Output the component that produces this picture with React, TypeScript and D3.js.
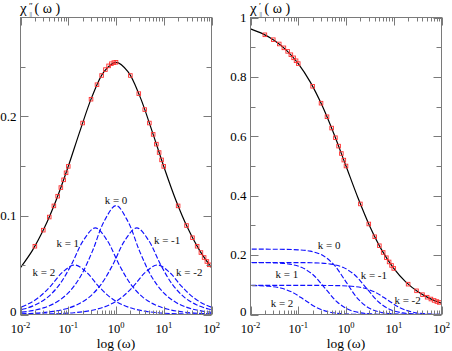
import React from "react";
import * as d3 from "d3";

// total curves, sampled at log10(omega)
const logOmega = [-2, -1.75, -1.5, -1.25, -1, -0.75, -0.5, -0.25, 0, 0.25, 0.5, 0.75, 1, 1.25, 1.5, 1.75, 2];
const chi2Total = [0.04735, 0.0648, 0.08751, 0.11596, 0.1496, 0.18603, 0.22032, 0.24545, 0.25476, 0.24545, 0.22032, 0.18603, 0.1496, 0.11596, 0.08751, 0.0648, 0.04735];
const chi1Total = [0.96191, 0.94578, 0.9228, 0.89026, 0.84486, 0.78325, 0.70344, 0.60688, 0.5, 0.39312, 0.29656, 0.21675, 0.15514, 0.10974, 0.0772, 0.05422, 0.03809];

// measured points (red squares)
const markerOmega = [
  0.02, 0.03, 0.04, 0.05, 0.06, 0.07, 0.08, 0.09, 0.1,
  0.2, 0.3, 0.4, 0.5, 0.6, 0.7, 0.8, 0.9, 1,
  2, 3, 4, 5, 6, 7, 8, 9, 10,
  20, 30, 40, 50, 60, 70, 80, 90,
];
const chi2Points = [
  0.06896, 0.08519, 0.09844, 0.1097, 0.1195, 0.12822, 0.13604, 0.14312, 0.1496,
  0.19341, 0.21745, 0.23211, 0.24142, 0.24739, 0.25113, 0.25333, 0.25444, 0.25476,
  0.24142, 0.22312, 0.207, 0.19341, 0.18193, 0.1721, 0.16361, 0.15617, 0.1496,
  0.1097, 0.08986, 0.07753, 0.06896, 0.06258, 0.05758, 0.05354, 0.05019,
];
const chi1Points = [
  0.94175, 0.92527, 0.91084, 0.89783, 0.88587, 0.8747, 0.86422, 0.8543, 0.84486,
  0.76845, 0.71149, 0.6658, 0.62772, 0.59521, 0.56693, 0.54205, 0.51989, 0.5,
  0.37228, 0.30477, 0.26176, 0.23155, 0.20893, 0.19122, 0.17694, 0.16512, 0.15514,
  0.10217, 0.07972, 0.0668, 0.05825, 0.0521, 0.0474, 0.04367, 0.04064,
];

// single relaxation components k, sampled at log10(omega * tau_k)
const logOmegaTau = [-3, -2.75, -2.5, -2.25, -2, -1.75, -1.5, -1.25, -1, -0.75, -0.5, -0.25, 0, 0.25, 0.5, 0.75, 1, 1.25, 1.5, 1.75, 2, 2.25, 2.5, 2.75, 3];
const kValues = [2, 1, 0, -1, -2];
const logTau = [0.8686, 0.4343, 0, -0.4343, -0.8686];

const chi2K0 = [0.00022, 0.00039, 0.0007, 0.00124, 0.0022, 0.00391, 0.00695, 0.01233, 0.02178, 0.03792, 0.06325, 0.09399, 0.11, 0.09399, 0.06325, 0.03792, 0.02178, 0.01233, 0.00695, 0.00391, 0.0022, 0.00124, 0.0007, 0.00039, 0.00022];
const chi2K1 = [0.00018, 0.00031, 0.00055, 0.00098, 0.00175, 0.00311, 0.00553, 0.00981, 0.01733, 0.03017, 0.05031, 0.07477, 0.0875, 0.07477, 0.05031, 0.03017, 0.01733, 0.00981, 0.00553, 0.00311, 0.00175, 0.00098, 0.00055, 0.00031, 0.00018];
const chi2K2 = [0.0001, 0.00018, 0.00032, 0.00056, 0.001, 0.00178, 0.00316, 0.00561, 0.0099, 0.01724, 0.02875, 0.04272, 0.05, 0.04272, 0.02875, 0.01724, 0.0099, 0.00561, 0.00316, 0.00178, 0.001, 0.00056, 0.00032, 0.00018, 0.0001];

const chi1K0 = [0.22, 0.22, 0.22, 0.22, 0.22, 0.21993, 0.21978, 0.21931, 0.21782, 0.21326, 0.2, 0.16715, 0.11, 0.05286, 0.02, 0.00674, 0.00218, 0.00069, 0.00022, 0.00007, 0.00002, 0.00001, 0, 0, 0];
const chi1K1 = [0.175, 0.175, 0.175, 0.175, 0.17498, 0.17494, 0.17483, 0.17445, 0.17327, 0.16964, 0.15909, 0.13296, 0.0875, 0.04204, 0.01591, 0.00536, 0.00173, 0.00055, 0.00018, 0.00006, 0.00002, 0.00001, 0, 0, 0];
const chi1K2 = [0.098, 0.098, 0.098, 0.098, 0.09799, 0.09797, 0.0979, 0.09769, 0.09703, 0.095, 0.08909, 0.07446, 0.049, 0.02354, 0.00891, 0.003, 0.00097, 0.00031, 0.0001, 0.00003, 0.00001, 0, 0, 0, 0];

// label anchors in data coordinates [log10 omega, value]
const chi2LabelAt = [[-1.51, 0.039], [-1.01, 0.068], [0, 0.112], [1.07, 0.071], [1.535, 0.039]];
const chi1LabelAt = [[-1.34, 0.025], [-1.24, 0.123], [-0.354, 0.22], [0.583, 0.12], [1.29, 0.035]];

const FONT = "Liberation Serif, Times New Roman, Times, serif";
const AXIS = "#7a7a7a";
const TOP = 17.5;
const BOTTOM = 314.5;

type Pt = [number, number];

function Panel({ x0, x1, yMax, yMajor, yMinor, yFmt, total, points, parts, labelAt, prime }: any) {
  const x = d3.scaleLog().domain([0.01, 100]).range([x0, x1]);
  const y = d3.scaleLinear().domain([0, yMax]).range([BOTTOM, TOP]);
  const line = d3
    .line<Pt>()
    .x((d) => x(d[0]))
    .y((d) => y(d[1]))
    .curve(d3.curveCatmullRom);

  const totalPts: Pt[] = logOmega.map((l, i) => [Math.pow(10, l), total[i]]);
  const clipId = "clip" + Math.round(x0);
  const xt = x.ticks();
  const isDecade = (t: number) => Math.abs(Math.log10(t) - Math.round(Math.log10(t))) < 1e-6;
  const tx = x0 - 0.5;

  return (
    <g fontFamily={FONT}>
      <defs>
        <clipPath id={clipId}>
          <rect x={x0} y={TOP} width={x1 - x0} height={BOTTOM - TOP} />
        </clipPath>
      </defs>

      <g clipPath={`url(#${clipId})`}>
        {parts.map((vals: number[], j: number) => {
          const pts: Pt[] = logOmegaTau.map((v, i) => [Math.pow(10, v - logTau[j]), vals[i]]);
          return (
            <path key={j} d={line(pts) || ""} fill="none" stroke="#1010ff" strokeWidth={1.15} strokeDasharray="5,2" />
          );
        })}
        <path d={line(totalPts) || ""} fill="none" stroke="#000" strokeWidth={1.2} />
        {markerOmega.map((w, i) => (
          <rect
            key={i}
            x={x(w) - 1.8}
            y={y(points[i]) - 1.8}
            width={3.6}
            height={3.6}
            fill="none"
            stroke="#ff3030"
            strokeWidth={0.9}
          />
        ))}
      </g>

      {kValues.map((k, j) => (
        <text
          key={k}
          x={x(Math.pow(10, labelAt[j][0]))}
          y={y(labelAt[j][1])}
          textAnchor="middle"
          fontSize={11}
          fill="#111"
        >
          {`k = ${k}`}
        </text>
      ))}

      <rect x={x0} y={TOP} width={x1 - x0} height={BOTTOM - TOP} fill="none" stroke={AXIS} strokeWidth={1} />

      {xt.map((t, i) => {
        const len = isDecade(t) ? 8 : 4;
        const px = Math.round(x(t)) + 0.5;
        return (
          <g key={i} stroke={AXIS} strokeWidth={1}>
            <line x1={px} x2={px} y1={BOTTOM} y2={BOTTOM - len} />
            <line x1={px} x2={px} y1={TOP} y2={TOP + len} />
          </g>
        );
      })}
      {yMajor.concat(yMinor).map((t: number, i: number) => {
        const len = yMajor.includes(t) ? 8 : 5;
        const py = Math.round(y(t)) + 0.5;
        return (
          <g key={"y" + i} stroke={AXIS} strokeWidth={1}>
            <line x1={x0} x2={x0 + len} y1={py} y2={py} />
            <line x1={x1} x2={x1 - len} y1={py} y2={py} />
          </g>
        );
      })}

      {yMajor.map((t: number) => (
        <text
          key={"yl" + t}
          x={x0 - 4}
          y={y(t)}
          dy={t === 0 ? "0.12em" : "0.33em"}
          textAnchor="end"
          fontSize={13}
          fill="#000"
        >
          {yFmt(t)}
        </text>
      ))}
      {xt.filter(isDecade).map((t) => (
        <text key={"xl" + t} x={x(t)} y={333} textAnchor="middle" fontSize={12.5} fill="#000">
          10
          <tspan fontSize={8.5} dy={-5}>
            {Math.round(Math.log10(t))}
          </tspan>
        </text>
      ))}
      <text x={(x0 + x1) / 2} y={348} textAnchor="middle" fontSize={13.5} fill="#000">
        log (ω)
      </text>

      {/* panel title: chi with prime(s) and parallel subscript */}
      <text x={tx} y={13} fontSize={15} fill="#000">χ</text>
      <text x={tx + 9} y={8.5} fontSize={9} fill="#000">{prime}</text>
      <text x={tx + 9.5} y={16} fontSize={6} fill="#000">||</text>
      <text x={tx + 14.5} y={13} fontSize={14} fill="#000">( ω )</text>
    </g>
  );
}

export default function App() {
  return (
    <svg
      width={452}
      height={351}
      style={{ position: "absolute", left: 0, top: 0, background: "#fff" }}
    >
      <Panel
        x0={20.5}
        x1={211.5}
        yMax={0.3}
        yMajor={[0, 0.1, 0.2]}
        yMinor={[0.05, 0.15, 0.25]}
        yFmt={(t: number) => (t === 0 ? "0" : t.toFixed(1))}
        total={chi2Total}
        points={chi2Points}
        parts={[chi2K2, chi2K1, chi2K0, chi2K1, chi2K2]}
        labelAt={chi2LabelAt}
        prime="″"
      />
      <Panel
        x0={250.5}
        x1={441.5}
        yMax={1}
        yMajor={[0, 0.2, 0.4, 0.6, 0.8, 1]}
        yMinor={[0.1, 0.3, 0.5, 0.7, 0.9]}
        yFmt={(t: number) => (t === 0 || t === 1 ? String(t) : t.toFixed(1))}
        total={chi1Total}
        points={chi1Points}
        parts={[chi1K2, chi1K1, chi1K0, chi1K1, chi1K2]}
        labelAt={chi1LabelAt}
        prime="′"
      />
    </svg>
  );
}
